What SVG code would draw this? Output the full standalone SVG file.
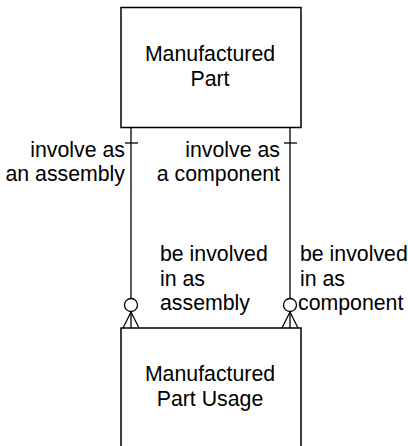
<svg xmlns="http://www.w3.org/2000/svg" width="408" height="446" viewBox="0 0 408 446">
  <style>
    .box { fill: #fff; stroke: #000; stroke-width: 1.5; }
    .ln { fill: none; stroke: #000; stroke-width: 1.3; }
    .opt { fill: #fff; stroke: #000; stroke-width: 1.3; }
    text { font-family: "Liberation Sans", Arial, sans-serif; font-size: 21.3px; fill: #000; }
    .c { text-anchor: middle; }
    .r { text-anchor: end; }
  </style>
  <rect width="408" height="446" fill="#fff"/>

  <!-- relationship lines with one-side ticks and zero-or-many ends -->
  <g id="connectors">
    <g id="rel-assembly">
      <line class="ln" x1="131" y1="127" x2="131" y2="298"/>
      <line class="ln" x1="125" y1="143" x2="138" y2="143"/>
      <line class="ln" x1="131" y1="312" x2="123" y2="328"/>
      <line class="ln" x1="131" y1="312" x2="131" y2="328"/>
      <line class="ln" x1="131" y1="312" x2="139" y2="328"/>
      <circle class="opt" cx="131" cy="305" r="6.5"/>
    </g>
    <g id="rel-component">
      <line class="ln" x1="290" y1="127" x2="290" y2="298"/>
      <line class="ln" x1="284" y1="143" x2="297" y2="143"/>
      <line class="ln" x1="290" y1="312" x2="282" y2="328"/>
      <line class="ln" x1="290" y1="312" x2="290" y2="328"/>
      <line class="ln" x1="290" y1="312" x2="298" y2="328"/>
      <circle class="opt" cx="290" cy="305" r="6.5"/>
    </g>
    <g id="labels">
      <text class="r" x="125" y="157">involve as</text>
      <text class="r" x="125" y="181">an assembly</text>
      <text class="r" x="280" y="157">involve as</text>
      <text class="r" x="280" y="181">a component</text>
      <text x="160" y="261">be involved</text>
      <text x="160" y="286">in as</text>
      <text x="160" y="310">assembly</text>
      <text x="300" y="261">be involved</text>
      <text x="300" y="286">in as</text>
      <text x="298" y="310">component</text>
    </g>
  </g>

  <g id="manufactured-part">
    <rect class="box" x="121" y="7.5" width="180" height="120"/>
    <text class="c" x="210" y="61">Manufactured</text>
    <text class="c" x="210" y="86">Part</text>
  </g>

  <g id="manufactured-part-usage">
    <rect class="box" x="121" y="328" width="180" height="130"/>
    <text class="c" x="210" y="381">Manufactured</text>
    <text class="c" x="210" y="406">Part Usage</text>
  </g>
</svg>
